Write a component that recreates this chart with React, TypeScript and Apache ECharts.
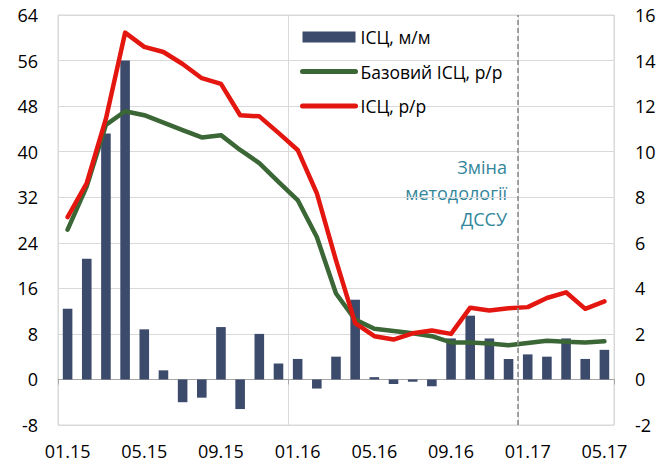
import React, { useEffect, useRef } from "react";
import * as echarts from "echarts";

const months = [
  "01.15", "02.15", "03.15", "04.15", "05.15", "06.15", "07.15", "08.15", "09.15", "10.15", "11.15", "12.15",
  "01.16", "02.16", "03.16", "04.16", "05.16", "06.16", "07.16", "08.16", "09.16", "10.16", "11.16", "12.16",
  "01.17", "02.17", "03.17", "04.17", "05.17",
];

// ІСЦ, м/м (right axis, %)
const cpiMoM = [
  3.1, 5.3, 10.8, 14.0, 2.2, 0.4, -1.0, -0.8, 2.3, -1.3, 2.0, 0.7,
  0.9, -0.4, 1.0, 3.5, 0.1, -0.2, -0.1, -0.3, 1.8, 2.8, 1.8, 0.9,
  1.1, 1.0, 1.8, 0.9, 1.3,
];

// Базовий ІСЦ, р/р (left axis, %)
const coreYoY = [
  26.3, 33.9, 44.7, 47.1, 46.4, 45.1, 43.8, 42.5, 42.9, 40.3, 38.0, 34.7,
  31.5, 25.0, 15.1, 10.5, 8.9, 8.5, 8.1, 7.6, 6.5, 6.5, 6.3, 6.0,
  6.4, 6.8, 6.6, 6.5, 6.7,
];

// ІСЦ, р/р (left axis, %)
const cpiYoY = [
  28.5, 34.5, 45.8, 60.9, 58.4, 57.5, 55.4, 52.9, 51.9, 46.4, 46.2, 43.3,
  40.3, 32.7, 20.9, 9.9, 7.6, 7.0, 8.1, 8.6, 8.0, 12.6, 12.1, 12.5,
  12.7, 14.3, 15.3, 12.4, 13.7,
];

const seriesNames = ["ІСЦ, м/м", "Базовий ІСЦ, р/р", "ІСЦ, р/р"];
const noteText = "Зміна\nметодології\nДССУ";
// index of the month where the methodology changed (boundary before 01.17)
const methodologyChangeIndex = 24;
const yearGridStep = 12;

const FONT = "'Open Sans', sans-serif";

export default function App() {
  const ref = useRef<HTMLDivElement>(null);
  useEffect(() => {
    if (!ref.current) return;
    const chart = echarts.init(ref.current, null, { renderer: "svg" });
    chart.setOption({
      animation: false,
      backgroundColor: "#ffffff",
      textStyle: { fontFamily: FONT },
      grid: {
        left: 58,
        right: 56,
        top: 15,
        bottom: 38,
        show: true,
        borderColor: "#d9d9d9",
        borderWidth: 1,
      },
      legend: {
        orient: "vertical",
        left: 295,
        top: 23,
        itemWidth: 53,
        itemHeight: 11,
        itemGap: 16.5,
        textStyle: { fontSize: 17.5, color: "#000", fontFamily: FONT },
        data: [
          { name: seriesNames[0], icon: "rect" },
          { name: seriesNames[1], itemStyle: { opacity: 0 }, lineStyle: { width: 5 } },
          { name: seriesNames[2], itemStyle: { opacity: 0 }, lineStyle: { width: 5 } },
        ],
      },
      xAxis: [
        {
          type: "category",
          data: months,
          position: "bottom",
          boundaryGap: true,
          axisLine: { show: false, onZero: false },
          axisTick: { show: false },
          axisLabel: {
            interval: 3,
            fontSize: 18,
            lineHeight: 18,
            color: "#000",
            margin: 17,
            fontFamily: FONT,
          },
          splitLine: { show: false },
        },
        {
          type: "category",
          data: months,
          position: "bottom",
          boundaryGap: true,
          axisLine: { show: true, onZero: true, onZeroAxisIndex: 0, lineStyle: { color: "#a6a6a6", width: 1 } },
          axisTick: {
            show: true,
            length: 5,
            interval: (i: number) => i % yearGridStep === 0,
            lineStyle: { color: "#a6a6a6" },
          },
          axisLabel: { show: false },
          splitLine: { show: false },
        },
        {
          type: "value",
          position: "bottom",
          min: 0,
          max: months.length,
          interval: yearGridStep,
          axisLine: { show: false, onZero: false },
          axisTick: { show: false },
          axisLabel: { show: false },
          splitLine: { show: true, lineStyle: { color: "#d9d9d9", width: 1 } },
        },
      ],
      yAxis: [
        {
          type: "value",
          position: "left",
          min: -8,
          max: 64,
          interval: 8,
          axisLine: { show: false },
          axisTick: { show: false },
          axisLabel: { fontSize: 18, color: "#000", margin: 20, fontFamily: FONT },
          splitLine: { show: true, lineStyle: { color: "#d9d9d9", width: 1 } },
        },
        {
          type: "value",
          position: "right",
          min: -2,
          max: 16,
          interval: 2,
          axisLine: { show: false },
          axisTick: { show: false },
          axisLabel: { fontSize: 18, color: "#000", margin: 21, fontFamily: FONT },
          splitLine: { show: false },
        },
      ],
      graphic: [
        {
          type: "text",
          x: 507,
          y: 154,
          style: {
            text: noteText,
            fill: "#31869b",
            font: `18px ${FONT}`,
            align: "right",
            verticalAlign: "top",
            lineHeight: 26,
          },
        },
      ],
      series: [
        {
          name: seriesNames[0],
          type: "bar",
          yAxisIndex: 1,
          data: cpiMoM,
          barWidth: "50%",
          itemStyle: { color: "#3c4a6b" },
        },
        {
          name: seriesNames[1],
          type: "line",
          yAxisIndex: 0,
          data: coreYoY,
          symbol: "none",
          lineStyle: { color: "#3b6636", width: 4.5, cap: "round", join: "round" },
          itemStyle: { color: "#3b6636" },
        },
        {
          name: seriesNames[2],
          type: "line",
          yAxisIndex: 0,
          data: cpiYoY,
          symbol: "none",
          lineStyle: { color: "#e3170f", width: 4.5, cap: "round", join: "round" },
          itemStyle: { color: "#e3170f" },
        },
        {
          name: "methodology",
          type: "line",
          xAxisIndex: 2,
          yAxisIndex: 0,
          data: [],
          markLine: {
            silent: true,
            symbol: "none",
            label: { show: false },
            lineStyle: { color: "#8c8c8c", width: 1.6, type: [5, 3] },
            data: [{ xAxis: methodologyChangeIndex }],
          },
        },
      ],
    });
    return () => chart.dispose();
  }, []);
  return (
    <div
      ref={ref}
      style={{ position: "fixed", left: 0, top: 0, width: 670, height: 463, background: "#fff" }}
    />
  );
}
